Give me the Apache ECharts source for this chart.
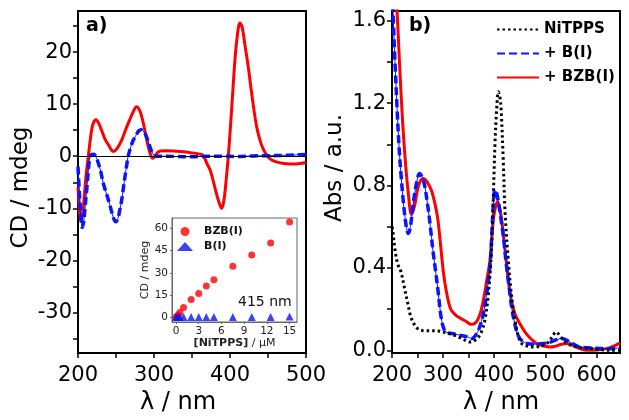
<!DOCTYPE html>
<html><head><meta charset="utf-8">
<script src="https://cdn.jsdelivr.net/npm/echarts@6/dist/echarts.min.js"></script>
<style>html,body{margin:0;padding:0;background:#fff}#c{width:629px;height:420px}</style>
</head><body><div id="c"></div>
<script>
const FONT = 'DejaVu Sans';

// ---------- Panel a: CD spectra ----------
const cdLambdaBZB = [200,201.5,203.5,205.5,207.5,209.5,211.5,213.6,216,218,220.5,223.7,227,231,235.5,240,244,247,251,257.5,263,268,272.5,277,280.5,283.5,286,289,292.5,295.5,298,301,304,308,315,325,335,345,353,360,364,367,370,373.7,377,381,385,389,392,395,397.8,400.5,403.5,406.5,409.5,413,416,419,424,429.5,435,440,444,448,452,459,467,475,483,492,500];
const cdValueBZB  = [-6,-9.5,-12.3,-11.5,-9,-5.5,-2.5,0,3,5.1,6.5,7.0,6.4,5,3.3,2.2,1.2,0.9,1.4,3.1,5.2,7,8.5,9.5,9.0,7.8,6.3,4.2,1.8,0.3,-0.4,-0.1,0.6,1.0,1.05,1.0,0.9,0.75,0.6,0.4,0.2,-0.5,-1.5,-2.6,-4.2,-6.5,-8.6,-10,-8.5,-4.5,0,5.5,12,18.5,23,25.6,24.8,22,17.2,11,5.7,2.8,1.3,0.25,-0.4,-1.0,-1.3,-1.45,-1.5,-1.4,-1.2];
const cdLambdaB = [200,202,203.8,205.6,207.5,209.5,211.4,213.5,215.8,218.5,221,224,226.8,230,233.3,237,240,244,247,249.6,252.5,255,257.5,260,261.8,264,266,269.5,272.8,277,280,283,286.5,290,293.5,297,300,303,315,330,350,370,390,410,430,450,470,485,500];
const cdValueB  = [-2,-7.5,-11.5,-13.7,-12.5,-9.5,-6.5,-3,0,0.35,0.4,-0.2,-1.35,-3,-5.2,-7,-8.4,-10.5,-12,-12.6,-12.0,-10.3,-8.4,-5.8,-3.9,-1.8,0,1.8,3.1,4.2,4.9,5.1,4.7,3.8,2.3,0.9,0.2,0,0,-0.05,-0.1,0,0,-0.05,0.05,0.1,0.15,0.25,0.35];
const cdXLabels = [200,300,400,500];
const cdXTicks  = [200,250,300,350,400,450,500];
const cdYLabels = [-30,-20,-10,0,10,20];
const cdYTicks  = [-35,-30,-25,-20,-15,-10,-5,0,5,10,15,20,25];

// ---------- Panel b: absorbance ----------
const absLambdaNi = [200,201.4,206,211,217.6,224,231,237,247,257,270,290,305,322,338,352,360,368,375,382,388,393.5,397,401.4,404.7,408,411,413.5,417.6,421,427.5,434,440.6,447,453.7,465,476,490,503,512,521,530,538.6,550,570,590,607,625,646];
const absValueNi  = [0.6,0.583,0.486,0.42,0.38,0.308,0.227,0.162,0.113,0.097,0.095,0.094,0.085,0.073,0.055,0.04,0.045,0.06,0.09,0.15,0.26,0.437,0.65,1.0,1.17,1.255,1.23,1.166,0.923,0.68,0.437,0.26,0.146,0.07,0.033,0.02,0.016,0.02,0.033,0.06,0.089,0.065,0.04,0.025,0.012,0.008,0.003,0.0,0.0];
const absLambdaB = [200,202,205,210,214,218,223,228,232,236,241,247,254,262,270,275,280,285,290,296,302.6,310,322,335,348,356,364,371,378,385,391.6,395,398,401.4,404,408,413,418,423,428,434,440,447,455,465,480,496,510,520,532,545,555,568,585,600,620,635,646];
const absValueB  = [1.8,1.65,1.45,1.17,0.98,0.84,0.7,0.6,0.567,0.6,0.70,0.80,0.858,0.82,0.70,0.6,0.486,0.39,0.29,0.162,0.097,0.085,0.08,0.072,0.065,0.057,0.075,0.11,0.17,0.27,0.405,0.55,0.70,0.777,0.77,0.72,0.64,0.55,0.43,0.33,0.21,0.13,0.07,0.045,0.033,0.03,0.033,0.04,0.05,0.057,0.045,0.03,0.016,0.012,0.01,0.008,0.01,0.012];
const absLambdaBZB = [200,205,209,212,215,218.4,222,227,232,238,244,250,256,262,268,277,285,290,296,301,306,311,316,325,335,345,355,362,368,374,380,386,391.6,398,402,406,410,414,417.6,424,431,440,450,460,470,483,495,509,520,530,542,555,568,581,595,610,625,640,646];
const absValueBZB  = [2.4,2.0,1.7,1.54,1.38,1.215,1.06,0.89,0.76,0.66,0.70,0.78,0.825,0.834,0.82,0.777,0.70,0.63,0.486,0.37,0.29,0.23,0.194,0.17,0.154,0.14,0.126,0.13,0.15,0.19,0.26,0.35,0.437,0.63,0.69,0.72,0.70,0.64,0.567,0.42,0.275,0.18,0.13,0.09,0.06,0.033,0.022,0.016,0.02,0.028,0.033,0.022,0.008,0.0,0.0,0.004,0.012,0.028,0.035];
const absXLabels = [200,300,400,500,600];
const absXTicks  = [200,250,300,350,400,450,500,550,600];
const absYLabels = [0,0.4,0.8,1.2,1.6];
const absYTicks  = [0,0.2,0.4,0.6,0.8,1.0,1.2,1.4,1.6];

// ---------- Inset: CD at 415 nm vs [NiTPPS] ----------
const insetConcBZB = [0,0.25,0.5,1,2,3,4,5,7.5,10,12.5,15];
const insetCdBZB   = [0,1.2,3.1,6.5,11.8,15.9,21.1,25.2,34.5,42,50.2,64.5];
const insetConcB   = [0,0.25,0.5,1,2,3,4,5,7.5,10,12.5,15];
const insetCdB     = [0,0,0,0,0,0,0,0,0,0,0,0.3];
const insetXTicks  = [0,3,6,9,12,15];
const insetYTicks  = [0,15,30,45,60];

const pairs = (xs, ys) => xs.map((x, i) => [x, ys[i]]);
const RED = '#ff0000', BLUE = '#0a14ff', BLACK = '#000000';

function mainX(grid, min, max, labels, ticks, namePad) {
  return {
    gridIndex: grid, type: 'value', min: min, max: max,
    axisLine: {show: true, onZero: false, lineStyle: {color: '#000', width: 2}},
    axisTick: {show: true, inside: false, length: 5, customValues: ticks, lineStyle: {color: '#000', width: 1.5}},
    axisLabel: {customValues: labels, margin: 12, fontSize: 21, color: '#000', fontFamily: FONT},
    splitLine: {show: false},
    name: 'λ / nm', nameLocation: 'middle', nameGap: 33,
    nameTextStyle: {fontSize: 24, color: '#000', fontFamily: FONT, padding: namePad}
  };
}
function mainY(grid, min, max, labels, ticks, name, fmt, namePad) {
  return {
    gridIndex: grid, type: 'value', min: min, max: max,
    axisLine: {show: true, onZero: false, lineStyle: {color: '#000', width: 2}},
    axisTick: {show: true, inside: false, length: 5, customValues: ticks, lineStyle: {color: '#000', width: 1.5}},
    axisLabel: {customValues: labels, margin: 6, fontSize: 21, color: '#000', fontFamily: FONT, formatter: fmt},
    splitLine: {show: false},
    name: name, nameLocation: 'middle', nameGap: 45, nameRotate: 90,
    nameTextStyle: {fontSize: 23, color: '#000', fontFamily: FONT, padding: namePad}
  };
}
function lineSeries(name, xi, yi, xs, ys, color, width, type, z) {
  return {
    name: name, type: 'line', xAxisIndex: xi, yAxisIndex: yi, data: pairs(xs, ys),
    symbol: 'none', showSymbol: false, smooth: 0.35,
    itemStyle: {color: color}, lineStyle: {color: color, width: width, type: type}, z: z
  };
}

const redCD = lineSeries('CD BZB(I)', 0, 0, cdLambdaBZB, cdValueBZB, RED, 3, 'solid', 3);
redCD.markLine = {silent: true, symbol: ['none', 'none'], label: {show: false}, lineStyle: {color: '#000', width: 1, type: 'solid'}, data: [{yAxis: 0}]};

const option = {
  animation: false,
  backgroundColor: '#fff',
  textStyle: {fontFamily: FONT},
  grid: [
    {left: 78, top: 11, width: 228, height: 342, show: true, borderColor: '#000', borderWidth: 2, backgroundColor: 'transparent'},
    {left: 392, top: 11, width: 228, height: 342, show: true, borderColor: '#000', borderWidth: 2, backgroundColor: 'transparent'},
    {left: 172, top: 218, width: 125, height: 104, show: true, borderColor: '#666', borderWidth: 1, backgroundColor: '#fff'}
  ],
  xAxis: [
    mainX(0, 200, 500, cdXLabels, cdXTicks, [0, 28, 0, 0]),
    mainX(1, 200, 646, absXLabels, absXTicks, [0, 10, 0, 0]),
    {
      gridIndex: 2, type: 'value', min: -0.53, max: 15.98,
      axisLine: {show: true, onZero: false, lineStyle: {color: '#666', width: 1}},
      axisTick: {show: true, length: 2, customValues: insetXTicks, lineStyle: {color: '#666'}},
      axisLabel: {customValues: insetXTicks, margin: 4, fontSize: 10.5, color: '#222', fontFamily: FONT},
      splitLine: {show: false},
      name: '{b|[NiTPPS]} / μM', nameLocation: 'middle', nameGap: 16,
      nameTextStyle: {fontSize: 11, color: '#222', fontFamily: FONT, rich: {b: {fontSize: 11, fontWeight: 'bold', color: '#222', fontFamily: FONT}}}
    }
  ],
  yAxis: [
    mainY(0, -37.8, 27.9, cdYLabels, cdYTicks, 'CD / mdeg', v => String(v), [0, 11, 0, 0]),
    mainY(1, -0.013, 1.647, absYLabels, absYTicks, 'Abs / a.u.', v => v.toFixed(1), [0, 0, 0, 28]),
    {
      gridIndex: 2, type: 'value', min: -3.4, max: 67.2,
      axisLine: {show: true, onZero: false, lineStyle: {color: '#666', width: 1}},
      axisTick: {show: true, length: 2, customValues: insetYTicks, lineStyle: {color: '#666'}},
      axisLabel: {customValues: insetYTicks, margin: 4, fontSize: 10.5, color: '#222', fontFamily: FONT},
      splitLine: {show: false},
      name: 'CD / mdeg', nameLocation: 'middle', nameGap: 20, nameRotate: 90,
      nameTextStyle: {fontSize: 11, color: '#222', fontFamily: FONT}
    }
  ],
  legend: [
    {
      orient: 'vertical', left: 491, top: 17, itemWidth: 42, itemHeight: 14, itemGap: 9,
      data: ['NiTPPS', '+ B(I)', '+ BZB(I)'],
      itemStyle: {opacity: 0},
      textStyle: {fontSize: 15, fontWeight: 'bold', color: '#000', fontFamily: FONT},
      selectedMode: false
    },
    {
      orient: 'vertical', left: 172, top: 221, itemWidth: 16, itemHeight: 9, itemGap: 4,
      data: ['BZB(I)', 'B(I)'],
      textStyle: {fontSize: 11, fontWeight: 'bold', color: '#111', fontFamily: FONT, padding: [0, 0, 0, 6]},
      selectedMode: false
    }
  ],
  graphic: [
    {type: 'text', left: 86, top: 17, style: {text: 'a)', fontSize: 19, fontWeight: 'bold', fill: '#000', fontFamily: FONT}},
    {type: 'text', left: 409, top: 17, style: {text: 'b)', fontSize: 19, fontWeight: 'bold', fill: '#000', fontFamily: FONT}},
    {type: 'text', left: 238, top: 295, z: 20, style: {text: '415 nm', fontSize: 14, fill: '#111', fontFamily: FONT}}
  ],
  series: [
    // panel a
    redCD,
    lineSeries('cdBthin', 0, 0, cdLambdaB, cdValueB, BLUE, 1, 'solid', 4),
    lineSeries('CD B(I)', 0, 0, cdLambdaB, cdValueB, BLUE, 3.5, [8, 4], 4),
    // panel b
    lineSeries('+ BZB(I)', 1, 1, absLambdaBZB, absValueBZB, RED, 3, 'solid', 3),
    lineSeries('absBthin', 1, 1, absLambdaB, absValueB, BLUE, 1, 'solid', 4),
    lineSeries('+ B(I)', 1, 1, absLambdaB, absValueB, BLUE, 3.5, [8, 4], 4),
    lineSeries('NiTPPS', 1, 1, absLambdaNi, absValueNi, BLACK, 3, [2.5, 3], 5),
    // inset
    {name: 'BZB(I)', type: 'scatter', xAxisIndex: 2, yAxisIndex: 2, data: pairs(insetConcBZB, insetCdBZB), symbol: 'circle', symbolSize: 7, itemStyle: {color: RED}, z: 6},
    {name: 'B(I)', type: 'scatter', xAxisIndex: 2, yAxisIndex: 2, data: pairs(insetConcB, insetCdB), symbol: 'triangle', symbolSize: 8, itemStyle: {color: BLUE}, z: 6}
  ]
};
const chart = echarts.init(document.getElementById('c'), null, {renderer: 'canvas'});
chart.setOption(option);
</script>
</body></html>
